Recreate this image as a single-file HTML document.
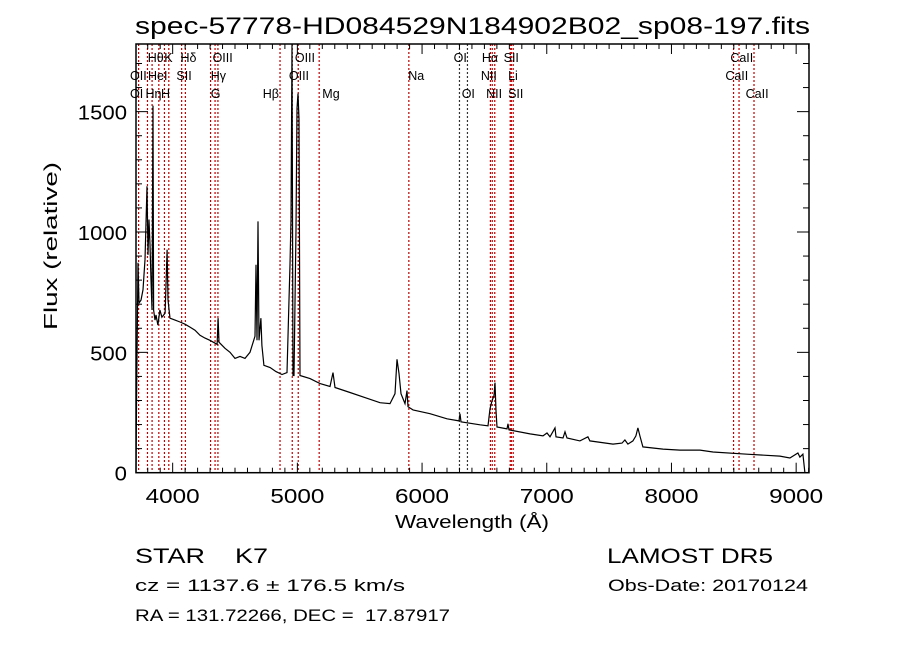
<!DOCTYPE html>
<html><head><meta charset="utf-8"><style>
body{margin:0;background:#fff;width:900px;height:649px;overflow:hidden}
svg{display:block;font-family:"Liberation Sans",sans-serif}
</style></head><body>
<svg id="chart" width="900" height="649" viewBox="0 0 900 649">
<rect width="900" height="649" fill="#fff"/>
<text x="135" y="34" font-size="24" textLength="675" lengthAdjust="spacingAndGlyphs">spec-57778-HD084529N184902B02_sp08-197.fits</text>
<g id="lines"></g>
<g id="labels" font-size="12.5"></g>
<path id="spec" fill="none" stroke="#000" stroke-width="1.2"/>
<g id="axes"></g>
<text x="395" y="528" font-size="18" textLength="154" lengthAdjust="spacingAndGlyphs">Wavelength (Å)</text>
<text transform="translate(57,330) rotate(-90)" font-size="18" textLength="168" lengthAdjust="spacingAndGlyphs">Flux (relative)</text>
<text x="135" y="563" font-size="21" xml:space="preserve" textLength="133" lengthAdjust="spacingAndGlyphs">STAR    K7</text>
<text x="135" y="591" font-size="17" xml:space="preserve" textLength="270" lengthAdjust="spacingAndGlyphs">cz = 1137.6 ± 176.5 km/s</text>
<text x="135" y="621" font-size="17" xml:space="preserve" textLength="315" lengthAdjust="spacingAndGlyphs">RA = 131.72266, DEC =  17.87917</text>
<text x="607" y="563" font-size="21" textLength="166" lengthAdjust="spacingAndGlyphs">LAMOST DR5</text>
<text x="608" y="591" font-size="17" textLength="200" lengthAdjust="spacingAndGlyphs">Obs-Date: 20170124</text>
</svg>
<script>
const wave=[3706,3710,3722,3730,3746,3762,3778,3794,3802,3810,3818,3826,3834,3842,3847,3858,3866,3882,3898,3914,3939,3955,3963,3979,4019,4059,4099,4139,4179,4219,4259,4299,4340,4356,4364,4372,4420,4460,4500,4540,4580,4620,4660,4668,4676,4684,4692,4708,4716,4732,4781,4829,4877,4917,4933,4941,4949,4957,4965,4973,4989,4997,5005,5013,5021,5101,5182,5262,5286,5302,5422,5542,5663,5743,5783,5799,5815,5831,5863,5879,5887,5927,6064,6200,6296,6304,6312,6465,6529,6545,6561,6577,6585,6593,6601,6681,6689,6697,6866,6970,7002,7026,7066,7074,7130,7146,7162,7266,7330,7346,7531,7603,7627,7651,7691,7715,7731,7747,7771,7932,8068,8229,8333,8606,8870,8950,9014,9030,9054,9070];
const flux=[0,278,872,705,717,760,885,1190,905,1052,948,800,676,1525,676,634,655,613,676,646,663,927,718,642,634,626,617,605,592,571,559,550,538,533,642,542,517,500,475,483,475,500,567,864,550,1044,550,642,529,446,437,420,408,416,718,864,1052,1800,404,404,1010,1513,1575,1470,404,391,370,358,416,354,333,312,291,287,328,471,412,328,287,341,274,261,245,224,215,245,211,199,195,266,299,320,374,257,190,182,203,178,161,153,165,149,186,149,144,170,144,132,149,132,119,123,136,119,132,153,186,153,107,98,94,94,86,77,69,61,82,65,77,0];
const lineWaves=[3727,3798,3835,3889,3934,3969,4072,4102,4304,4340,4363,4861,4959,5007,5175,5894,6300,6364,6548,6563,6583,6707,6716,6731,8498,8542,8662];
const lineBlack=[6300,6364];
const labelText=["Hθ","K","Hδ","OIII","OIII","OI","Hα","SII","OII","HeI","SII","Hγ","OIII","Na","NII","Li","OI","Hη","H","G","Hβ","Mg","OI","NII","SII","CaII","CaII","CaII"];
const labelWave=[3800,3933,4063,4320,4980,6253,6480,6654,3658,3802,4030,4305,4932,5889,6472,6690,3658,3782,3906,4305,4722,5200,6318,6514,6690,8472,8432,8595];
const labelRow=[0,0,0,0,0,0,0,0,1,1,1,1,1,1,1,1,2,2,2,2,2,2,2,2,2,0,1,2];
const xTicks=[4000,5000,6000,7000,8000,9000];
const yTicks=[0,500,1000,1500];
const X0=136,X1=809,Y0=472.7,Y1=44,WMIN=3706,WMAX=9103,FMIN=0,FMAX=1781;
const sx=w=>X0+(w-WMIN)/(WMAX-WMIN)*(X1-X0);
const sy=f=>Math.max(Y1,Y0-(f-FMIN)/(FMAX-FMIN)*(Y0-Y1));
const NS="http://www.w3.org/2000/svg";
function mk(tag,attrs,parent){const e=document.createElementNS(NS,tag);for(const k in attrs)e.setAttribute(k,attrs[k]);parent.appendChild(e);return e;}
const gl=document.getElementById('lines');
lineWaves.forEach(w=>{const c=lineBlack.includes(w)?'#333':'#c00000';
const l=mk('line',{x1:sx(w),x2:sx(w),y1:Y1,y2:Y0,stroke:c,'stroke-width':1.2,'stroke-dasharray':'2,2'},gl);

});
const glb=document.getElementById('labels');
labelText.forEach((t,i)=>{const e=mk('text',{x:sx(labelWave[i]),y:62+labelRow[i]*18},glb);e.textContent=t;

});
let d='';wave.forEach((w,i)=>{d+=(i?'L':'M')+sx(w).toFixed(1)+','+sy(flux[i]).toFixed(1);});
document.getElementById('spec').setAttribute('d',d);
const ga=document.getElementById('axes');
mk('rect',{x:X0,y:Y1,width:X1-X0,height:Y0-Y1,fill:'none',stroke:'#000','stroke-width':1.5},ga);
for(let w=3800;w<=9100;w+=100){const maj=w%1000===0,L=maj?10:5;
mk('line',{x1:sx(w),x2:sx(w),y1:Y0,y2:Y0-L,stroke:'#000'},ga);
mk('line',{x1:sx(w),x2:sx(w),y1:Y1,y2:Y1+L,stroke:'#000'},ga);}
for(let f=100;f<=1700;f+=100){const maj=f%500===0,L=maj?12:6;
mk('line',{x1:X0,x2:X0+L,y1:sy(f),y2:sy(f),stroke:'#000'},ga);
mk('line',{x1:X1,x2:X1-L,y1:sy(f),y2:sy(f),stroke:'#000'},ga);}
xTicks.forEach(w=>{const t=mk('text',{x:sx(w)-27,y:503,'font-size':20,textLength:54,lengthAdjust:'spacingAndGlyphs'},ga);t.textContent=w;

});
yTicks.forEach(f=>{const n=String(f).length,wd=n*12.3;const t=mk('text',{x:127-wd,y:sy(f)+8,'font-size':20,textLength:wd,lengthAdjust:'spacingAndGlyphs'},ga);t.textContent=f;

});
</script>
</body></html>
